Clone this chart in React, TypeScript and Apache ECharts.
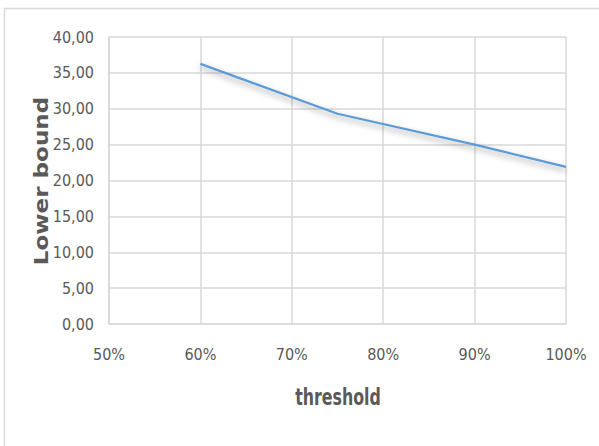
import React, { useEffect, useRef } from "react";
import * as echarts from "echarts";

const thresholds = [60, 75, 90, 100];
const lowerBound = [36.25, 29.3, 25.0, 21.9];
const xTicks = [50, 60, 70, 80, 90, 100];
const yTicks = [0, 5, 10, 15, 20, 25, 30, 35, 40];
const xTitle = "threshold";
const yTitle = "Lower bound";

const tickFont = "'DejaVu Sans Condensed', 'Liberation Sans Narrow', sans-serif";

export default function App() {
  const ref = useRef<HTMLDivElement>(null);
  useEffect(() => {
    if (!ref.current) return;
    const chart = echarts.init(ref.current, null, { renderer: "svg" });
    chart.setOption({
      animation: false,
      backgroundColor: "#ffffff",
      grid: { left: 109, right: 33, top: 37, bottom: 122, containLabel: false },
      xAxis: {
        type: "value",
        min: xTicks[0],
        max: xTicks[xTicks.length - 1],
        interval: 10,
        axisLine: { show: true, lineStyle: { color: "#d9d9d9", width: 1.5 } },
        axisTick: { show: false },
        splitLine: { show: true, lineStyle: { color: "#d9d9d9", width: 1.5 } },
        axisLabel: {
          margin: 22,
          color: "#595959",
          fontSize: 16,
          fontFamily: tickFont,
          formatter: (v: number) => `${v}%`,
        },
      },
      yAxis: {
        type: "value",
        min: yTicks[0],
        max: yTicks[yTicks.length - 1],
        interval: 5,
        axisLine: { show: true, lineStyle: { color: "#d9d9d9", width: 1.5 } },
        axisTick: { show: false },
        splitLine: { show: true, lineStyle: { color: "#d9d9d9", width: 1.5 } },
        axisLabel: {
          margin: 15,
          color: "#595959",
          fontSize: 16,
          fontFamily: tickFont,
          formatter: (v: number) => v.toFixed(2).replace(".", ","),
        },
      },
      series: [
        {
          type: "line",
          data: thresholds.map((t, i) => [t, lowerBound[i]]),
          symbol: "none",
          lineStyle: {
            color: "#5b9bd5",
            width: 2.25,
            shadowColor: "rgba(0,0,0,0.4)",
            shadowBlur: 6,
            shadowOffsetY: 3,
          },
        },
      ],
      graphic: [
        {
          type: "line",
          shape: { x1: 4, y1: 8.5, x2: 599, y2: 8.5 },
          style: { stroke: "#d9d9d9", lineWidth: 1.5 },
          silent: true,
        },
        {
          type: "line",
          shape: { x1: 4.5, y1: 8, x2: 4.5, y2: 446 },
          style: { stroke: "#d9d9d9", lineWidth: 1.5 },
          silent: true,
        },
        {
          type: "text",
          x: 41,
          y: 181,
          rotation: Math.PI / 2,
          scaleX: 1.28,
          scaleY: 1.05,
          style: {
            text: yTitle,
            fontFamily: "'DejaVu Sans', sans-serif",
            fontWeight: "bold",
            fontSize: 18,
            fill: "#595959",
            align: "center",
            verticalAlign: "middle",
          },
        },
        {
          type: "text",
          x: 338,
          y: 397,
          scaleX: 0.8,
          scaleY: 1.08,
          style: {
            text: xTitle,
            fontFamily: tickFont,
            fontWeight: "bold",
            fontSize: 22,
            fill: "#595959",
            align: "center",
            verticalAlign: "middle",
          },
        },
      ],
    });
    return () => chart.dispose();
  }, []);
  return (
    <div
      ref={ref}
      style={{ position: "absolute", left: 0, top: 0, width: 599, height: 446 }}
    />
  );
}
